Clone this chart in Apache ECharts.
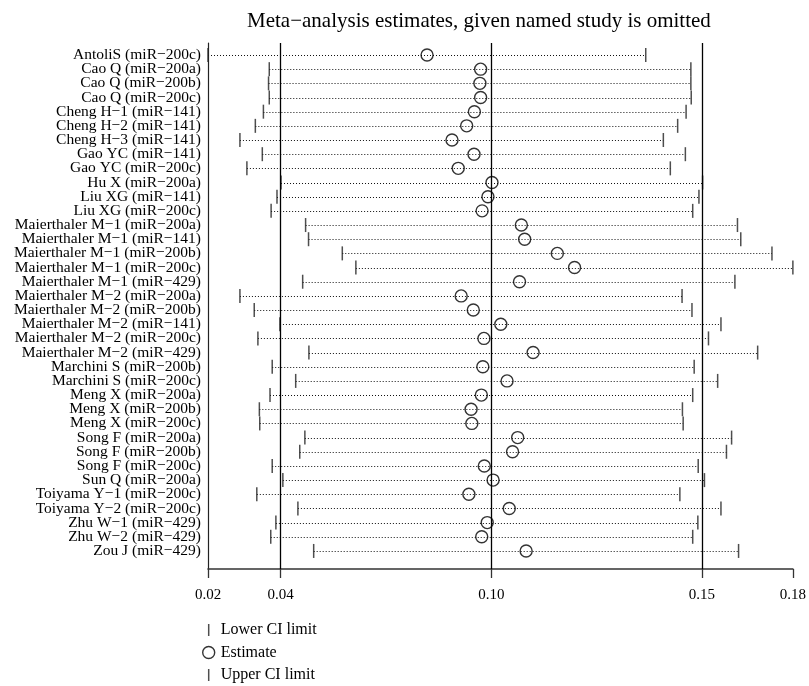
<!DOCTYPE html>
<html>
<head>
<meta charset="utf-8">
<script src="https://cdn.jsdelivr.net/npm/echarts@6/dist/echarts.min.js"></script>
<style>
  html, body { margin: 0; padding: 0; background: #fff; }
  #main { width: 809px; height: 686px; }
</style>
</head>
<body>
<div id="main"></div>
<script>
// study omitted in each row
var studies = [
    'AntoliS (miR−200c)', 'Cao Q (miR−200a)', 'Cao Q (miR−200b)', 'Cao Q (miR−200c)',
    'Cheng H−1 (miR−141)', 'Cheng H−2 (miR−141)', 'Cheng H−3 (miR−141)',
    'Gao YC (miR−141)', 'Gao YC (miR−200c)', 'Hu X (miR−200a)',
    'Liu XG (miR−141)', 'Liu XG (miR−200c)',
    'Maierthaler M−1 (miR−200a)', 'Maierthaler M−1 (miR−141)', 'Maierthaler M−1 (miR−200b)',
    'Maierthaler M−1 (miR−200c)', 'Maierthaler M−1 (miR−429)',
    'Maierthaler M−2 (miR−200a)', 'Maierthaler M−2 (miR−200b)', 'Maierthaler M−2 (miR−141)',
    'Maierthaler M−2 (miR−200c)', 'Maierthaler M−2 (miR−429)',
    'Marchini S (miR−200b)', 'Marchini S (miR−200c)',
    'Meng X (miR−200a)', 'Meng X (miR−200b)', 'Meng X (miR−200c)',
    'Song F (miR−200a)', 'Song F (miR−200b)', 'Song F (miR−200c)',
    'Sun Q (miR−200a)', 'Toiyama Y−1 (miR−200c)', 'Toiyama Y−2 (miR−200c)',
    'Zhu W−1 (miR−429)', 'Zhu W−2 (miR−429)', 'Zou J (miR−429)'
];

var lowerCI = [
    0.0197, 0.0364, 0.0362, 0.0364, 0.0348, 0.0326, 0.0284, 0.0345, 0.0303, 0.0396,
    0.0385, 0.0369, 0.0463, 0.0471, 0.0563, 0.0600, 0.0455, 0.0284, 0.0323, 0.0393,
    0.0333, 0.0472, 0.0372, 0.0436, 0.0366, 0.0337, 0.0338, 0.0461, 0.0447, 0.0372,
    0.0401, 0.0330, 0.0442, 0.0382, 0.0368, 0.0485
];

var estimate = [
    0.0794, 0.0940, 0.0938, 0.0940, 0.0923, 0.0902, 0.0862, 0.0922, 0.0879, 0.0971,
    0.0960, 0.0944, 0.1051, 0.1060, 0.1149, 0.1196, 0.1046, 0.0887, 0.0920, 0.0995,
    0.0949, 0.1083, 0.0946, 0.1012, 0.0942, 0.0914, 0.0916, 0.1041, 0.1027, 0.0950,
    0.0974, 0.0908, 0.1018, 0.0958, 0.0943, 0.1064
];

var upperCI = [
    0.1390, 0.1513, 0.1513, 0.1514, 0.1500, 0.1477, 0.1438, 0.1498, 0.1457, 0.1545,
    0.1535, 0.1518, 0.1640, 0.1649, 0.1734, 0.1791, 0.1633, 0.1489, 0.1516, 0.1595,
    0.1561, 0.1695, 0.1522, 0.1586, 0.1518, 0.1490, 0.1492, 0.1624, 0.1610, 0.1533,
    0.1550, 0.1483, 0.1595, 0.1532, 0.1518, 0.1643
];

// overall estimate with all studies: lower, estimate, upper
var overall = [0.0395, 0.0969, 0.1543];

// x ticks sit at min lower, overall CI and max upper
var xTickValues = [0.0197, 0.0395, 0.0969, 0.1543, 0.1791];
var xTickLabels = ['0.02', '0.04', '0.10', '0.15', '0.18'];

var rows = studies.map(function (s, i) { return i + 1; });

var FONT = '"Liberation Serif", "DejaVu Serif", serif';
var barIcon = 'path://M0,0 L1.5,0 L1.5,12 L0,12 Z';

// row pitch and plot box (px)
var ROW = 14.17, PLOT_TOP = 43, PLOT_BOTTOM = 117, FIRST_ROW = 55;
var yMin = 1 - (FIRST_ROW - PLOT_TOP) / ROW;
var yMax = yMin + (686 - PLOT_TOP - PLOT_BOTTOM) / ROW;

var chart = echarts.init(document.getElementById('main'));

var option = {
    backgroundColor: '#fff',
    animation: false,
    title: {
        text: 'Meta−analysis estimates, given named study is omitted',
        left: 242,
        top: 6,
        textStyle: { fontFamily: FONT, fontSize: 21, fontWeight: 'normal', color: '#000' }
    },
    legend: {
        orient: 'vertical',
        left: 202,
        top: 622,
        padding: 0,
        itemWidth: 14,
        itemHeight: 12,
        itemGap: 6.5,
        selectedMode: false,
        textStyle: { fontFamily: FONT, fontSize: 16, color: '#000', lineHeight: 16 },
        data: [
            { name: 'Lower CI limit', icon: barIcon, itemStyle: { color: '#222' } },
            { name: 'Estimate', icon: 'circle',
              itemStyle: { color: 'transparent', borderColor: '#000', borderWidth: 1.4 } },
            { name: 'Upper CI limit', icon: barIcon, itemStyle: { color: '#222' } }
        ]
    },
    grid: [
        { left: 208, right: 10, top: PLOT_TOP, bottom: PLOT_BOTTOM },
        // label strip: one band per study, centred on the rows of the plot
        { left: 208, right: 10, top: FIRST_ROW - ROW / 2, height: ROW * studies.length }
    ],
    xAxis: [
        {
            type: 'value',
            gridIndex: 0,
            min: xTickValues[0],
            max: xTickValues[4],
            axisLine: { onZero: false, lineStyle: { color: '#333', width: 1.6 } },
            axisTick: { show: true, customValues: xTickValues, length: 9,
                        lineStyle: { color: '#333', width: 1.3 } },
            axisLabel: {
                customValues: xTickValues,
                margin: 19,
                fontFamily: FONT, fontSize: 15, color: '#000',
                formatter: function (v) {
                    var best = 0;
                    for (var i = 1; i < xTickValues.length; i++) {
                        if (Math.abs(xTickValues[i] - v) < Math.abs(xTickValues[best] - v)) best = i;
                    }
                    return xTickLabels[best];
                }
            },
            splitLine: { show: false }
        },
        { type: 'value', gridIndex: 1, show: false }
    ],
    yAxis: [
        {
            type: 'value',
            gridIndex: 0,
            inverse: true,
            min: yMin,
            max: yMax,
            axisLine: { show: true, onZero: false, lineStyle: { color: '#222', width: 1.2 } },
            axisTick: { show: false },
            axisLabel: { show: false },
            splitLine: { show: false }
        },
        {
            type: 'category',
            gridIndex: 1,
            inverse: true,
            data: studies,
            axisLine: { show: false },
            axisTick: { show: false },
            splitLine: { show: false },
            axisLabel: {
                interval: 0,
                margin: 7,
                fontFamily: FONT, fontSize: 15.5, color: '#000'
            }
        }
    ],
    series: [
        {
            name: 'CI',
            type: 'custom',
            silent: true,
            z: 1,
            encode: { x: [0, 1], y: 2 },
            data: rows.map(function (r, i) { return [lowerCI[i], upperCI[i], r]; }),
            renderItem: function (params, api) {
                var p1 = api.coord([api.value(0), api.value(2)]);
                var p2 = api.coord([api.value(1), api.value(2)]);
                var y = Math.round(p1[1]) + 0.5;
                return {
                    type: 'line',
                    shape: { x1: p1[0], y1: y, x2: p2[0], y2: y },
                    style: { stroke: '#111', lineWidth: 1, lineDash: [1, 2] }
                };
            }
        },
        {
            name: 'Lower CI limit',
            type: 'scatter',
            z: 3,
            symbol: 'rect',
            symbolSize: [1.5, 14],
            itemStyle: { color: '#222' },
            data: rows.map(function (r, i) { return [lowerCI[i], r]; })
        },
        {
            name: 'Estimate',
            type: 'scatter',
            z: 4,
            symbol: 'circle',
            symbolSize: 12,
            itemStyle: { color: 'transparent', borderColor: '#000', borderWidth: 1.4 },
            data: rows.map(function (r, i) { return [estimate[i], r]; }),
            markLine: {
                silent: true,
                symbol: 'none',
                precision: 6,
                label: { show: false },
                lineStyle: { color: '#000', width: 1.3, type: 'solid' },
                data: overall.map(function (v) { return { xAxis: v }; })
            }
        },
        {
            name: 'Upper CI limit',
            type: 'scatter',
            z: 3,
            symbol: 'rect',
            symbolSize: [1.5, 14],
            itemStyle: { color: '#222' },
            data: rows.map(function (r, i) { return [upperCI[i], r]; })
        }
    ]
};

chart.setOption(option);
</script>
</body>
</html>
